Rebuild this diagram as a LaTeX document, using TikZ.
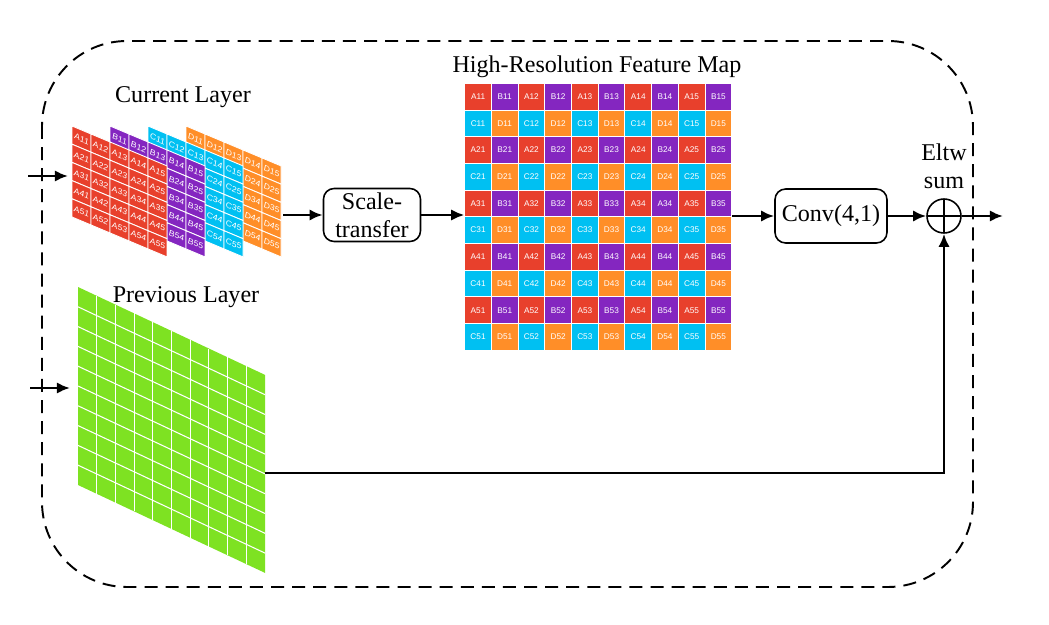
\documentclass[tikz,border=0pt]{standalone}
\usepackage{fontspec}
\setmainfont{Liberation Serif}
\setsansfont{Liberation Sans}
\usepackage{tikz}
\usetikzlibrary{arrows.meta}
\usetikzlibrary{positioning}
\definecolor{cellA}{RGB}{232,64,44}
\definecolor{cellB}{RGB}{132,38,192}
\definecolor{cellC}{RGB}{0,192,242}
\definecolor{cellD}{RGB}{255,142,40}
\definecolor{prevgreen}{RGB}{126,226,34}
\tikzset{>={Latex[length=7.5pt,width=6.5pt]}}
\tikzstyle{lbl} = [font=\fontsize{13.7}{16}\selectfont, inner sep=0pt]
\tikzstyle{op} = [rectangle, rounded corners=6pt, draw=black, line width=0.9pt, font=\fontsize{13.7}{16}\selectfont, align=center, minimum width=1.94cm, minimum height=1.06cm, inner sep=1pt]
\tikzstyle{flow} = [->, draw=black, line width=1.5pt]
\tikzstyle{hrcell} = [rectangle, draw=white, line width=0.5pt, minimum size=0.534cm, inner sep=0pt, text=white, font=\fontsize{4.7}{5}\selectfont\sffamily]
\tikzstyle{lcell} = [rectangle, draw=white, line width=0.5pt, minimum width=0.38cm, minimum height=0.364cm, inner sep=0pt, text=white, font=\fontsize{4.8}{5}\selectfont\sffamily\itshape]

\begin{document}
\begin{tikzpicture}[x=0.02cm, y=-0.02cm]
\useasboundingbox (0,0) rectangle (1049,625);
\draw [draw=black, line width=1.1pt, dash pattern=on 7.4pt off 4.6pt, rounded corners=1.7cm] (42,41) rectangle (973,587);

\node [lbl] (curlbl) at (183,97) {Current Layer};
\node [lbl] (prevlbl) at (186,297) {Previous Layer};
\node [lbl] (hrlbl) at (597,67) {High-Resolution Feature Map};

\foreach \lyr/\off in {D/3, C/2, B/1, A/0}{
  \begin{scope}[shift={(72+38*\off,126)}, yslant=-0.42, transform shape]
    \foreach \i in {1,...,5}
      \foreach \j in {1,...,5}{
        \def\txt{\lyr\i\j}
        \ifnum\off>0 \ifnum\i>1 \ifnum\j<4 \def\txt{}\fi\fi\fi
        \node [lcell, fill=cell\lyr] (cur-\lyr-\i-\j) at (19*\j-9.5, 18.2*\i-9.1) {\txt};
      }
  \end{scope}
}

\begin{scope}[shift={(78,287)}, yslant=-0.47]
  \fill [prevgreen] (0,0) rectangle (187,198);
  \foreach \k in {1,...,9}{
    \draw [white, line width=0.6pt] (18.7*\k,0) -- (18.7*\k,198);
    \draw [white, line width=0.6pt] (0,19.8*\k) -- (187,19.8*\k);
  }
\end{scope}

\node [rectangle, minimum size=5.34cm, inner sep=0pt] (hrmap) at (598.2,216.8) {};
\foreach \r in {1,...,10}{
  \foreach \c in {1,...,10}{
    \pgfmathtruncatemacro{\k}{(\r+1)/2}
    \pgfmathtruncatemacro{\j}{(\c+1)/2}
    \pgfmathtruncatemacro{\ro}{mod(\r,2)}
    \pgfmathtruncatemacro{\co}{mod(\c,2)}
    \ifnum\ro=1
      \ifnum\co=1 \def\lt{A}\def\fc{cellA}\else \def\lt{B}\def\fc{cellB}\fi
    \else
      \ifnum\co=1 \def\lt{C}\def\fc{cellC}\else \def\lt{D}\def\fc{cellD}\fi
    \fi
    \ifnum\r=5 \ifnum\c=8 \def\lt{A}\fi\fi
    \node [hrcell, fill=\fc] (hr-\r-\c) at (464.7+26.7*\c-13.35, 83.3+26.7*\r-13.35) {\lt\k\j};
  }
}

\node [op] (st) at (372,215) {Scale-\\transfer};
\node [op, minimum width=2.24cm, minimum height=1.08cm] (conv) at (831,216) {Conv(4,1)};
\node [circle, draw=black, line width=0.9pt, minimum size=0.68cm, inner sep=0pt,
  path picture={\draw [line width=0.9pt] (path picture bounding box.north) -- (path picture bounding box.south) (path picture bounding box.west) -- (path picture bounding box.east);}] (sum) at (944,216) {};
\node [lbl, align=center] (eltw) at (944,166) {Eltw\\sum};

\coordinate (curin) at (28,176);
\coordinate (curleft) at (68,176);
\coordinate (previn) at (30,388);
\coordinate (prevleft) at (70,388);
\coordinate (curright) at (283,215);
\coordinate (prevright) at (265,473);
\coordinate (out) at (1003,216);

\draw [flow] (curin) to (curleft);
\draw [flow] (previn) to (prevleft);
\draw [flow] (curright) to (st.west);
\draw [flow] (st.east) to (st.east -| hrmap.west);
\draw [flow] (hrmap.east |- conv.west) to (conv.west);
\draw [flow] (conv.east) to (sum.west);
\draw [flow] (sum.east) to (out);
\draw [flow] (prevright) -| (sum.south);
\end{tikzpicture}
\end{document}
